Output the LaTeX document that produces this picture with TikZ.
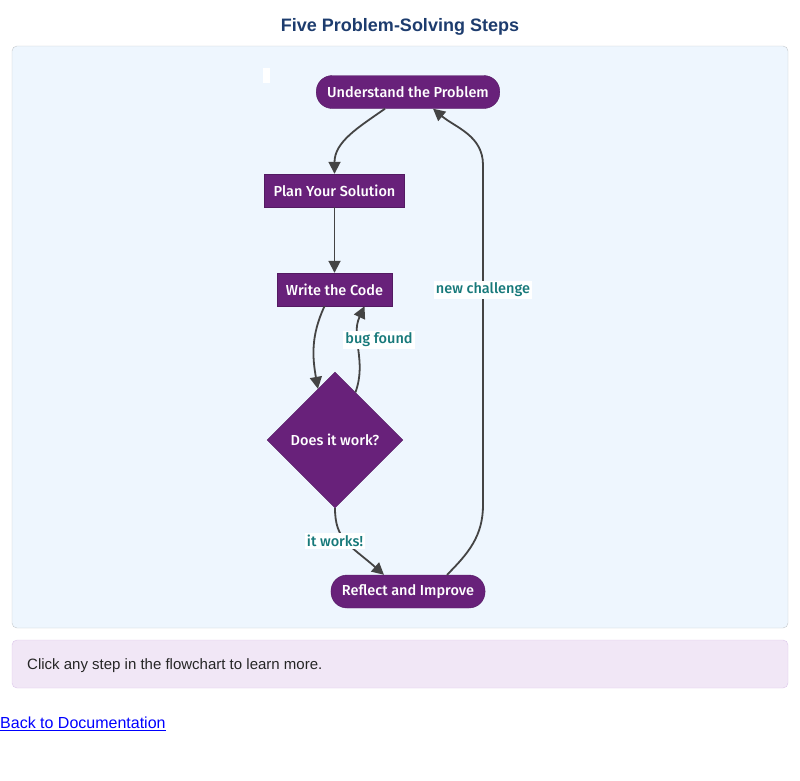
\documentclass[tikz,border=0pt]{standalone}
\usepackage{fontspec}
\setmainfont{Liberation Sans}
\newfontfamily\flowfont{Fira Sans}[UprightFont={* Medium}]
\usetikzlibrary{arrows.meta,shapes.geometric,calc}

\definecolor{stepPurple}{HTML}{68217A}
\definecolor{edgeGray}{HTML}{444444}
\definecolor{lblTeal}{HTML}{17797A}
\definecolor{titleBlue}{HTML}{1D3C6E}
\definecolor{panelBlue}{HTML}{EEF6FE}
\definecolor{panelLine}{HTML}{C4C8CC}
\definecolor{infoLilac}{HTML}{F1E7F6}
\definecolor{infoLine}{HTML}{DCC6EA}

\begin{document}
\begin{tikzpicture}[x=1pt, y=-1pt,
  stepbox/.style={rectangle, fill=stepPurple, draw=stepPurple!80!black, text=white,
    font=\flowfont\fontsize{14.5}{16}\selectfont, minimum height=33pt, inner xsep=9pt},
  pill/.style={stepbox, rounded corners=16pt, inner xsep=11pt},
  decision/.style={diamond, fill=stepPurple, draw=stepPurple!80!black, text=white,
    font=\flowfont\fontsize{14.5}{16}\selectfont, minimum width=136pt, minimum height=136pt, inner sep=0pt},
  flow/.style={edgeGray, line width=1.8pt, -{Triangle[length=12pt,width=12pt]}},
  lbl/.style={fill=white, text=lblTeal, font=\flowfont\fontsize{14.5}{16}\selectfont, inner sep=2pt}]
  \useasboundingbox (0,0) rectangle (800,780);

  % Title and panels
  \node[text=titleBlue, font=\bfseries\fontsize{18}{20}\selectfont] (title) at (400,27) {Five Problem-Solving Steps};
  \draw[fill=panelBlue, draw=panelLine, rounded corners=5pt] (12,46) rectangle (788,628);
  \fill[white] (263,68) rectangle (270,83);

  % Steps
  \node[pill] (understand) at (408,92) {Understand the Problem};
  \node[stepbox] (plan) at (334.5,190.5) {Plan Your Solution};
  \node[stepbox] (write) at (334.5,289.5) {Write the Code};
  \node[decision] (decide) at (335,440) {Does it work?};
  \node[pill] (reflect) at (408,591.5) {Reflect and Improve};

  % Loop bends
  \coordinate (loopLow) at (483,505);
  \coordinate (loopHigh) at (483,165);

  % Edges
  \draw[flow] ([xshift=-23pt]understand.south) to[out=-145,in=90] (plan.north);
  \draw[flow] (plan.south) -- (write.north);
  \draw[flow] ([xshift=-10pt]write.south) to[out=-115,in=100] ($(decide.north)!0.25!(decide.west)$);
  \draw[flow] ($(decide.north)!0.3!(decide.east)$) to[out=70,in=-115] ([xshift=30pt]write.south);
  \draw[flow] (decide.south) .. controls (335,540) and (350,545) .. ([xshift=-24pt]reflect.north);
  \draw[flow] ([xshift=39pt]reflect.north) to[out=45,in=-90] (loopLow) -- (loopHigh)
    to[out=90,in=-40] ([xshift=25pt]understand.south);

  % Edge labels
  \node[lbl] (bugLbl) at (379,340) {bug found};
  \node[lbl] (worksLbl) at (335,541) {it works!};
  \node[lbl] (newLbl) at (483,290) {new challenge};

  % Info box and link
  \draw[fill=infoLilac, draw=infoLine, rounded corners=5pt] (12,640) rectangle (788,688);
  \node[anchor=west, text=black!85, inner xsep=0pt, font=\fontsize{15}{17}\selectfont] (info) at (27,666) {Click any step in the flowchart to learn more.};
  \node[anchor=west, text=blue, inner sep=0pt, font=\fontsize{16}{18}\selectfont] (back) at (0,724) {\underline{Back to Documentation}};
\end{tikzpicture}
\end{document}
